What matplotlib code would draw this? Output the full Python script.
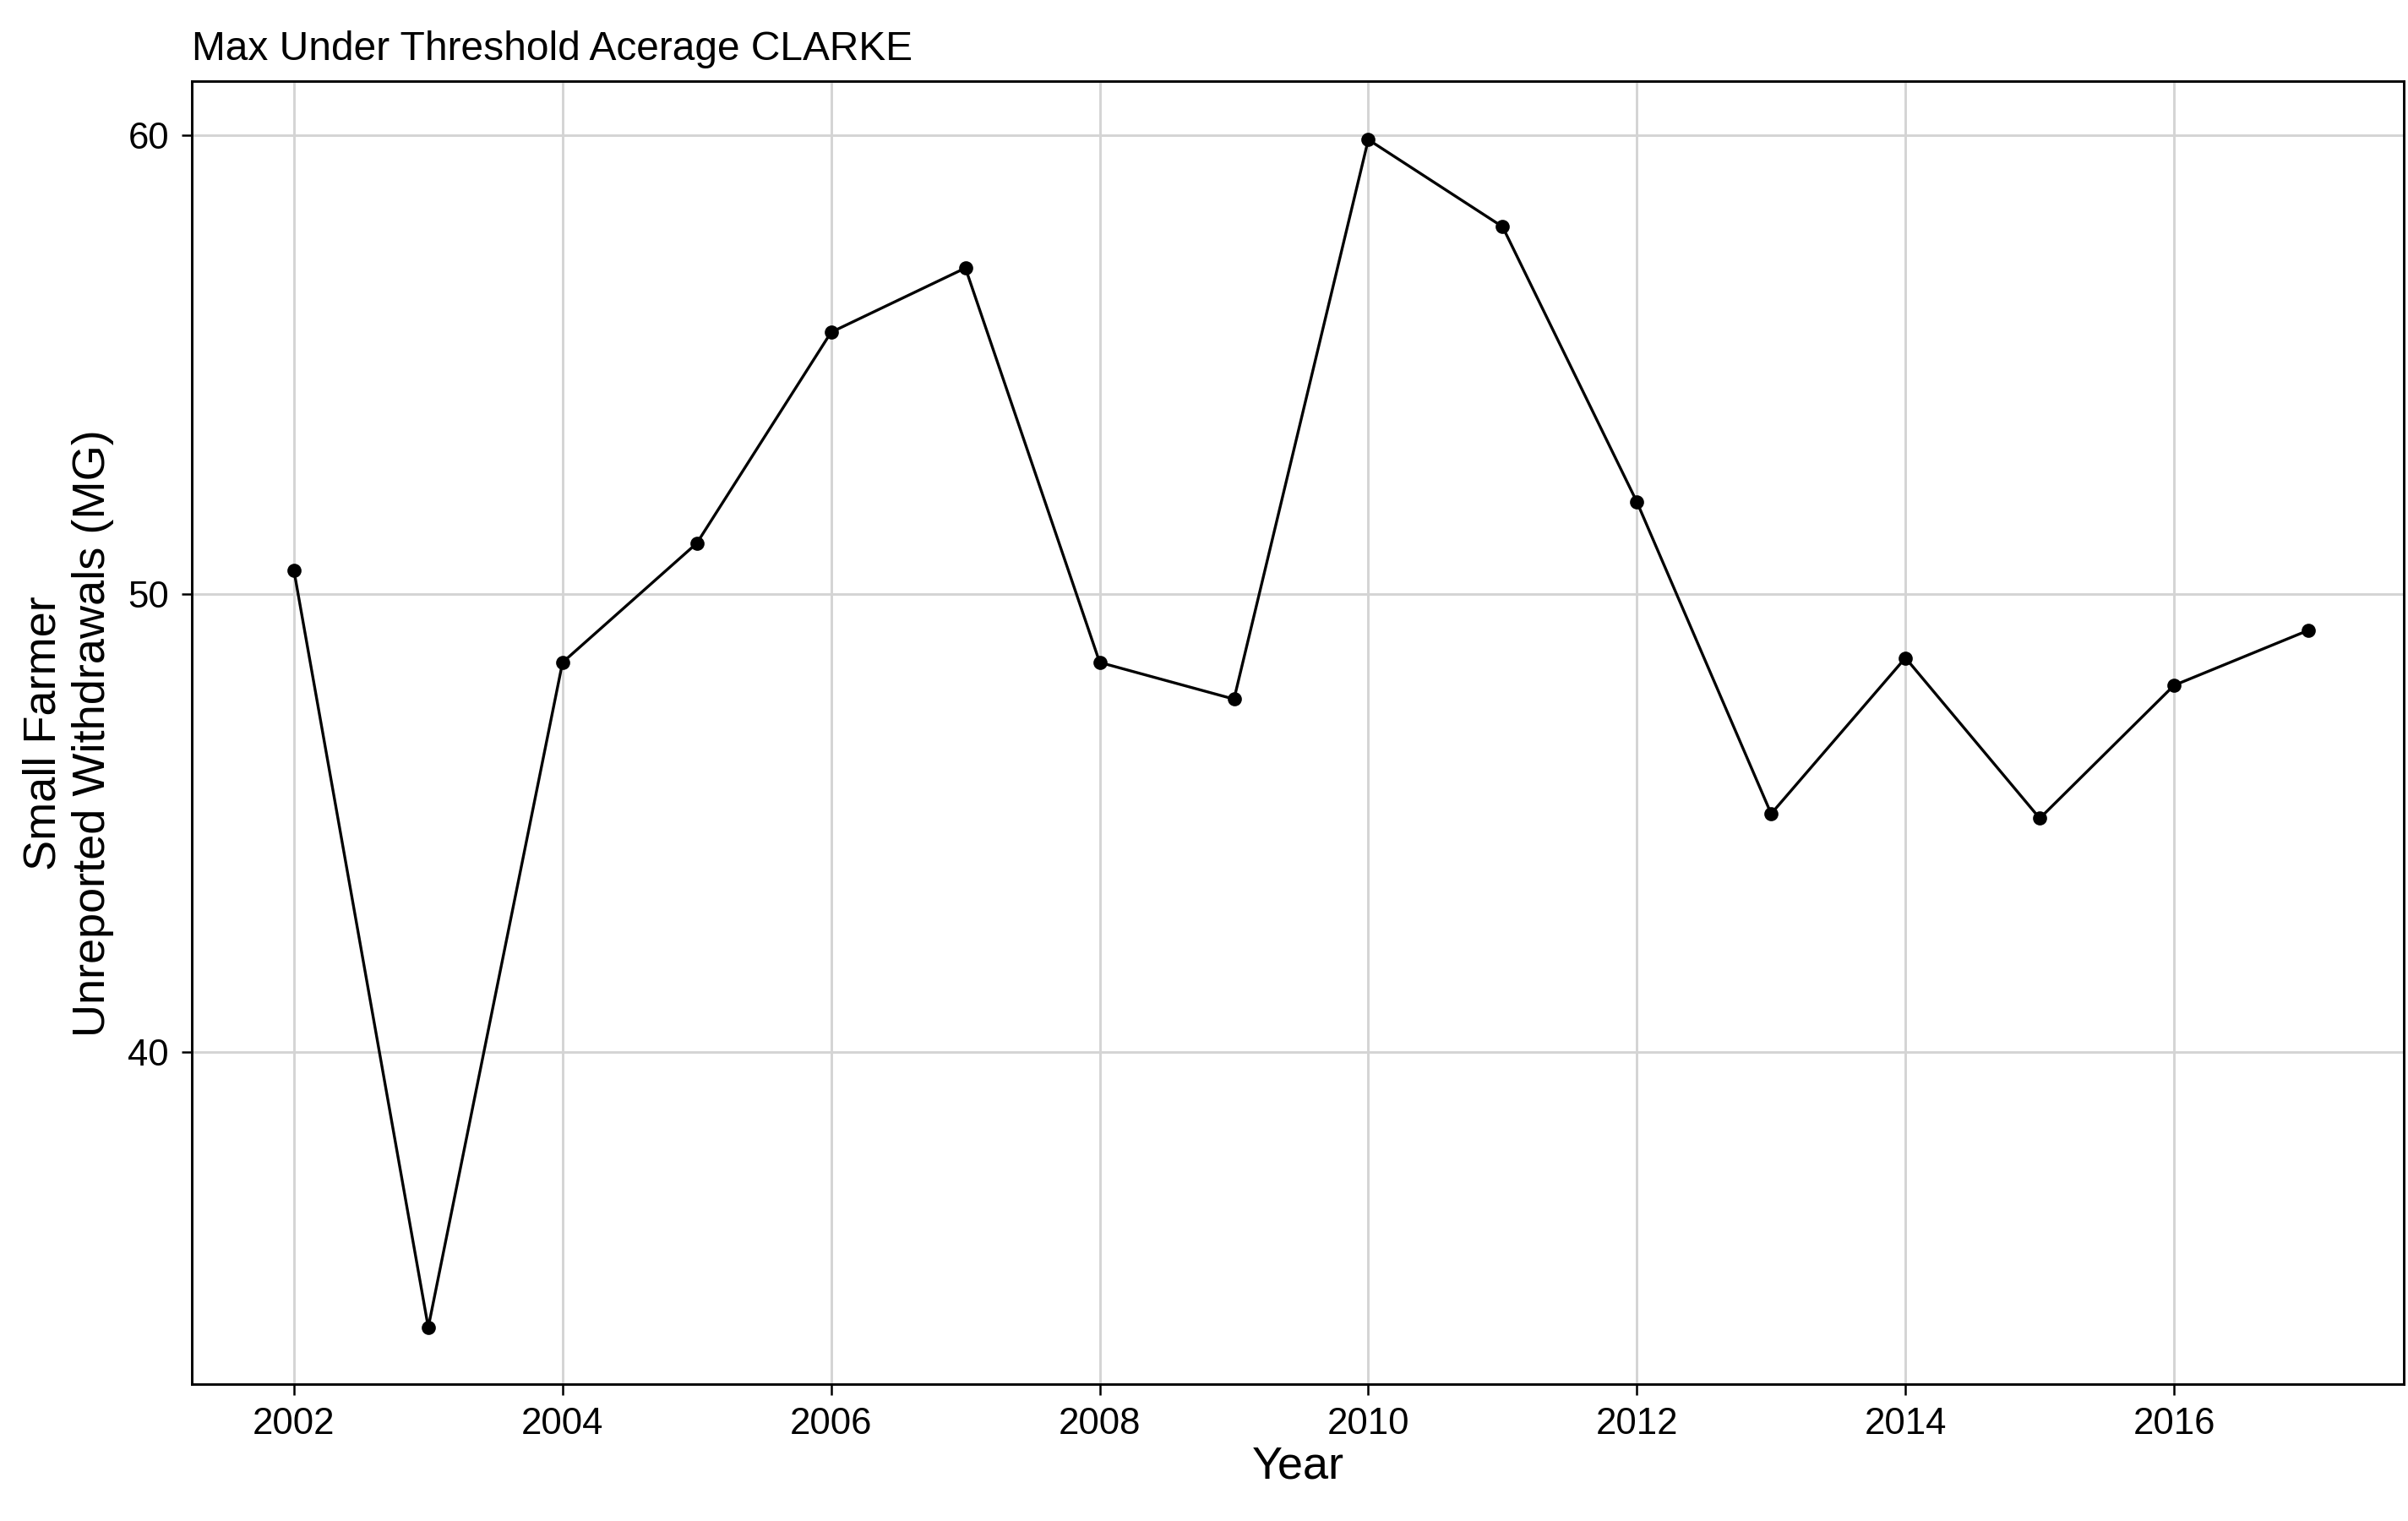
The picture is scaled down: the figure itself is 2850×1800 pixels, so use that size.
import matplotlib
matplotlib.use("Agg")
import matplotlib.pyplot as plt

plt.rcParams['font.family'] = ['Liberation Sans', 'DejaVu Sans']

years = [2002, 2003, 2004, 2005, 2006, 2007, 2008, 2009, 2010, 2011,
         2012, 2013, 2014, 2015, 2016, 2017]
values = [50.5, 34.0, 48.5, 51.1, 55.7, 57.1, 48.5, 47.7, 59.9, 58.0,
          52.0, 45.2, 48.6, 45.1, 48.0, 49.2]
x_ticks = [2002, 2004, 2006, 2008, 2010, 2012, 2014, 2016]
y_ticks = [40, 50, 60]

fig = plt.figure(figsize=(9.5, 6), dpi=300)
ax = fig.add_axes([0.0797, 0.0899, 0.9185, 0.8566])

ax.plot(years, values, color="black", linewidth=0.8, zorder=3)
ax.scatter(years, values, color="black", s=9, zorder=4)

ax.set_xlim(2001.24, 2017.71)
ax.set_ylim(32.76, 61.17)
ax.set_xticks(x_ticks)
ax.set_yticks(y_ticks)
ax.grid(color="#d4d4d4", linewidth=0.7, zorder=0)
ax.tick_params(labelsize=10.5, length=3, width=0.6, colors="black")
for s in ax.spines.values():
    s.set_linewidth(0.7)

ax.set_xlabel("Year", fontsize=13, labelpad=1)
ax.set_ylabel("Small Farmer\nUnreported Withdrawals (MG)", fontsize=13, labelpad=4)
ax.set_title("Max Under Threshold Acerage CLARKE", fontsize=11.5, loc="left", pad=6)

fig.savefig("out.png", dpi=300)
